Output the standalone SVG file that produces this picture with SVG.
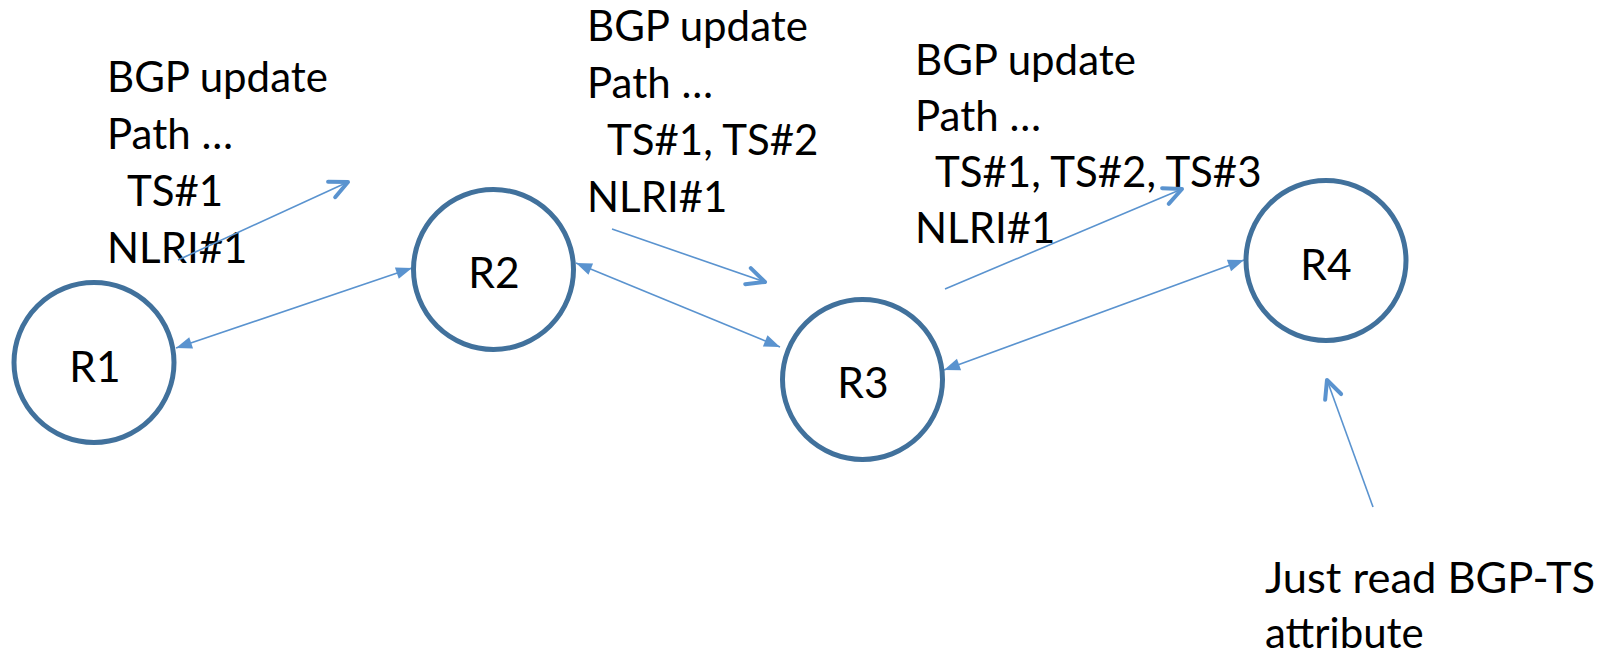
<svg xmlns="http://www.w3.org/2000/svg" width="1603" height="655" viewBox="0 0 1603 655">
  <style>
    .router { fill: #FFFFFF; stroke: #41719C; stroke-width: 5; }
    .rlabel { font-family: Lato, "Open Sans", "Liberation Sans", sans-serif; font-size: 42.5px; fill: #000000; text-anchor: middle; }
    .note { font-family: Lato, "Open Sans", "Liberation Sans", sans-serif; font-size: 42px; fill: #000000; }
    .link { fill: none; stroke: #5A93CF; stroke-width: 1.6; }
  </style>
  <defs>
    <!-- filled triangular head used on both ends of router links -->
    <marker id="tri" markerUnits="userSpaceOnUse" markerWidth="18" markerHeight="13" refX="16" refY="6" orient="auto-start-reverse" overflow="visible">
      <path d="M0,0 L16,6 L0,12 z" fill="#5A93CF"/>
    </marker>
    <!-- open V head used on update-flow arrows -->
    <marker id="vee" markerUnits="userSpaceOnUse" markerWidth="24" markerHeight="22" refX="20" refY="10.5" orient="auto" overflow="visible">
      <path d="M2,2 L20,10.5 L2,19" fill="none" stroke="#5A93CF" stroke-width="4" stroke-linecap="round" stroke-linejoin="round"/>
    </marker>
  </defs>

  <rect width="1603" height="655" fill="#FFFFFF"/>

  <!-- update annotations -->
  <g id="note-r1">
    <text class="note" x="107" y="92">BGP update</text>
    <text class="note" x="107" y="149">Path …</text>
    <text class="note" x="127" y="206">TS#1</text>
    <text class="note" x="107" y="263">NLRI#1</text>
  </g>
  <g id="note-r2">
    <text class="note" x="587" y="41">BGP update</text>
    <text class="note" x="587" y="98">Path …</text>
    <text class="note" x="607" y="155">TS#1, TS#2</text>
    <text class="note" x="587" y="212">NLRI#1</text>
  </g>
  <g id="note-r3">
    <text class="note" x="915" y="75">BGP update</text>
    <text class="note" x="915" y="131">Path …</text>
    <text class="note" x="935" y="187">TS#1, TS#2, TS#3</text>
    <text class="note" x="915" y="243">NLRI#1</text>
  </g>
  <g id="note-r4">
    <text class="note" x="1265" y="593" textLength="330" lengthAdjust="spacingAndGlyphs">Just read BGP-TS</text>
    <text class="note" x="1265" y="648">attribute</text>
  </g>

  <!-- connectors -->
  <g id="connectors">
    <line class="link" x1="176" y1="348" x2="412" y2="268" marker-start="url(#tri)" marker-end="url(#tri)"/>
    <line class="link" x1="576" y1="263" x2="780" y2="347" marker-start="url(#tri)" marker-end="url(#tri)"/>
    <line class="link" x1="944" y1="370" x2="1244" y2="260" marker-start="url(#tri)" marker-end="url(#tri)"/>
    <line class="link" x1="178" y1="260" x2="348" y2="182" marker-end="url(#vee)"/>
    <line class="link" x1="612" y1="229" x2="765" y2="282" marker-end="url(#vee)"/>
    <line class="link" x1="945" y1="289" x2="1182" y2="189" marker-end="url(#vee)"/>
    <line class="link" x1="1373" y1="507" x2="1327" y2="380" marker-end="url(#vee)"/>
  </g>

  <!-- routers -->
  <g id="R1">
    <circle class="router" cx="94" cy="362.5" r="80"/>
    <text class="rlabel" x="95" y="382">R1</text>
  </g>
  <g id="R2">
    <circle class="router" cx="493.5" cy="269.5" r="80"/>
    <text class="rlabel" x="494" y="288">R2</text>
  </g>
  <g id="R3">
    <circle class="router" cx="862.5" cy="379.5" r="80"/>
    <text class="rlabel" x="863" y="398">R3</text>
  </g>
  <g id="R4">
    <circle class="router" cx="1326" cy="260.5" r="80"/>
    <text class="rlabel" x="1326" y="280">R4</text>
  </g>
</svg>
